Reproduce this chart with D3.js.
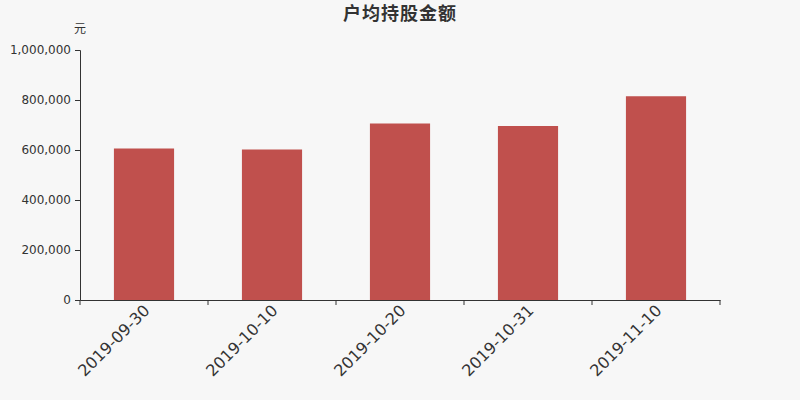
<!DOCTYPE html>
<html>
<head>
<meta charset="utf-8">
<script src="https://cdn.jsdelivr.net/npm/d3@7"></script>
<style>
  body { margin: 0; background: #f7f7f7; }
  svg { font-family: "Noto Sans CJK SC", "DejaVu Sans", sans-serif; }
</style>
</head>
<body>
<div id="VizBox"></div>
<script>
var dates = ["2019-09-30", "2019-10-10", "2019-10-20", "2019-10-31", "2019-11-10"];
var amounts = [606000, 602000, 706000, 696000, 815000];
var yTicks = [0, 200000, 400000, 600000, 800000, 1000000];

var data = dates.map(function(d, i) { return {group: d, value: amounts[i]}; });

// dimensions and margins
var margin = {top: 50, right: 80, bottom: 100, left: 80},
    width = 800 - margin.left - margin.right,
    height = 400 - margin.top - margin.bottom;

var root = d3.select("#VizBox")
  .append("svg")
    .attr("width", 800)
    .attr("height", 400)
    .style("background", "#f7f7f7");

// title
root.append("text")
  .attr("x", 400)
  .attr("y", 20)
  .attr("text-anchor", "middle")
  .attr("font-size", "18px")
  .attr("font-weight", "bold")
  .attr("letter-spacing", "1px")
  .attr("fill", "#333")
  .text("户均持股金额");

// unit
root.append("text")
  .attr("x", 80)
  .attr("y", 33)
  .attr("text-anchor", "middle")
  .attr("font-size", "12px")
  .attr("fill", "#333")
  .text("元");

var svg = root.append("g")
    .attr("transform", "translate(" + margin.left + "," + margin.top + ")");

var x = d3.scaleBand()
  .domain(dates)
  .range([0, width])
  .paddingInner(0.53)
  .paddingOuter(0.265);

var xb = d3.scaleBand()
  .domain(dates)
  .range([0, width]);

var y = d3.scaleLinear()
  .domain([0, 1000000])
  .range([height, 0]);

// bars
svg.selectAll("rect")
  .data(data)
  .enter()
  .append("rect")
    .attr("x", function(d) { return x(d.group); })
    .attr("y", function(d) { return y(d.value); })
    .attr("width", x.bandwidth())
    .attr("height", function(d) { return height - y(d.value); })
    .attr("fill", "#c0504d");

// Y axis
var yAxis = svg.append("g")
  .call(d3.axisLeft(y).tickValues(yTicks).tickFormat(d3.format(",")).tickSize(5).tickPadding(4));
yAxis.selectAll("text").attr("font-size", "12px").attr("fill", "#333").attr("font-family", "DejaVu Sans");
yAxis.selectAll("line, path").attr("stroke", "#333");

// X axis (ticks at band boundaries)
var xAxis = svg.append("g")
  .attr("transform", "translate(0," + height + ")")
  .call(d3.axisBottom(xb).tickSize(0).tickSizeOuter(0).tickPadding(8));
xAxis.select("path").attr("stroke", "#333");
xAxis.selectAll("text")
  .attr("font-size", "16px")
  .attr("fill", "#333")
  .attr("font-family", "DejaVu Sans")
  .attr("text-anchor", "end")
  .attr("dy", "0.35em")
  .attr("transform", "translate(-3,2) rotate(-45)");

var bounds = dates.map(function(d) { return xb(d); }).concat([width]);
xAxis.selectAll(".bound")
  .data(bounds)
  .enter()
  .append("line")
    .attr("class", "bound")
    .attr("x1", function(d) { return d; })
    .attr("x2", function(d) { return d; })
    .attr("y1", 0)
    .attr("y2", 5)
    .attr("stroke", "#333");
</script>
</body>
</html>
